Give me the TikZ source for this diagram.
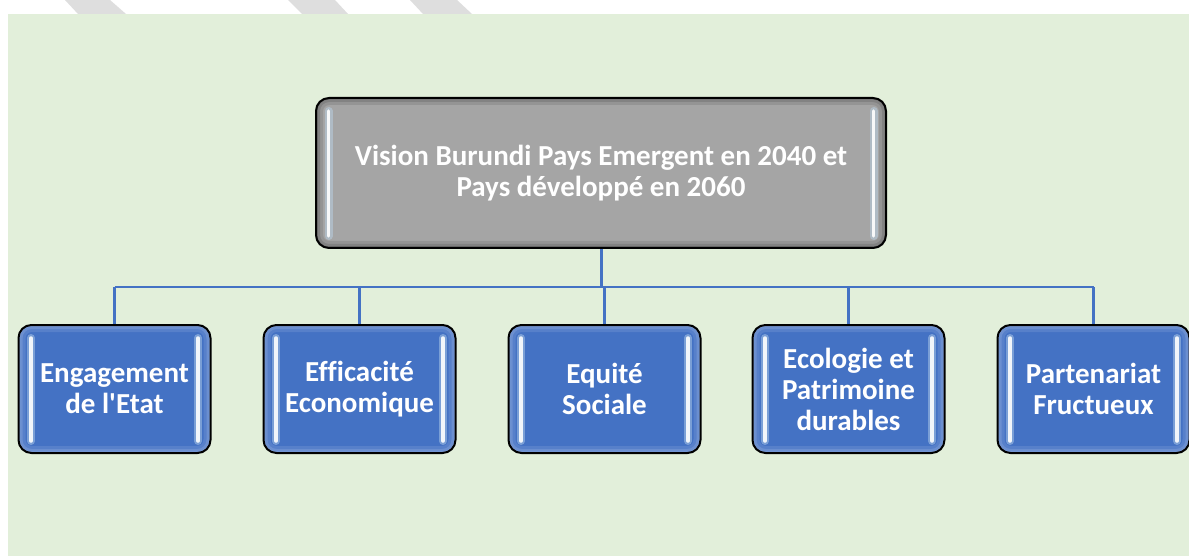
\documentclass[tikz,border=0pt]{standalone}
\usepackage{fontspec}
\setmainfont{Carlito}[Ligatures=NoCommon]
\definecolor{bggreen}{HTML}{E2EFDA}
\definecolor{stripegray}{HTML}{DEDEDE}
\definecolor{boxgray}{HTML}{A5A5A5}
\definecolor{boxblue}{HTML}{4472C4}
\definecolor{linkblue}{HTML}{4472C4}
\definecolor{barblue}{HTML}{BDD7EE}
\begin{document}
\begin{tikzpicture}[x=1pt,y=-1pt,
  lab/.style={text=white, font=\bfseries\fontsize{29}{31}\selectfont, align=center},
  % rounded box with a soft inner rim and two glossy side bars
  panel/.style n args={4}{draw=black, line width=2pt, rounded corners=13pt,
    fill=#1, minimum width=#2, minimum height=#3, inner sep=0pt,
    path picture={
      \draw[#4, line width=14pt, opacity=.10, rounded corners=13pt]
        (path picture bounding box.north west) rectangle (path picture bounding box.south east);
      \draw[#4, line width=8pt, opacity=.12, rounded corners=13pt]
        (path picture bounding box.north west) rectangle (path picture bounding box.south east);
      \draw[#4, line width=3pt, opacity=.15, rounded corners=13pt]
        (path picture bounding box.north west) rectangle (path picture bounding box.south east);
      \foreach \side/\dx in {west/12.5pt, east/-12.5pt}{
        \draw[barblue, line width=8pt, opacity=.45, line cap=round]
          ([xshift=\dx, yshift=-13pt]path picture bounding box.north \side) --
          ([xshift=\dx, yshift=12pt]path picture bounding box.south \side);
        \draw[white, line width=3.5pt, opacity=.9, line cap=round]
          ([xshift=\dx, yshift=-13pt]path picture bounding box.north \side) --
          ([xshift=\dx, yshift=12pt]path picture bounding box.south \side);
      }
    }},
  topbox/.style={panel={boxgray}{570pt}{150pt}{black}, lab},
  pillar/.style={panel={boxblue}{192pt}{128pt}{white}, lab},
  trunk/.style={draw=linkblue, line width=3pt},
  busline/.style={draw=linkblue, line width=2.5pt},
  branch/.style={draw=linkblue, line width=2.2pt}
]
\useasboundingbox (0,0) rectangle (1189,556);
\fill[white] (0,0) rectangle (1189,556);

% slanted grey stripes in the white band above the panel
\fill[stripegray] (65,0) -- (110,0) -- (126,14) -- (78,14) -- cycle;
\fill[stripegray] (288,0) -- (335,0) -- (348,14) -- (302,14) -- cycle;
\fill[stripegray] (410,0) -- (457,0) -- (472,14) -- (423,14) -- cycle;

% green panel
\fill[bggreen] (8,14) rectangle (1189,556);

% main vision box
\node[topbox] (vision) at (601,173) {Vision Burundi Pays Emergent en 2040 et\\Pays développé en 2060};

% the five pillars
\node[pillar] (p1) at (114.5,389) {Engagement\\de l\textquotesingle Etat};
\node[pillar] (p2) at (359.5,389) {Efficacité\\Economique};
\node[pillar] (p3) at (604.5,389) {Equité\\Sociale};
\node[pillar] (p4) at (848.5,389) {Ecologie et\\Patrimoine\\durables};
\node[pillar] (p5) at (1093.5,389) {Partenariat\\Fructueux};

% connectors
\coordinate (bus) at (601,287);
\draw[trunk] (vision.south) -- (vision.south |- bus);
\draw[busline] (p1.north |- bus) -- (p5.north |- bus);
\foreach \p in {p1,p2,p3,p4,p5}
  \draw[branch] (\p.north |- bus) -- (\p.north);
\end{tikzpicture}
\end{document}
